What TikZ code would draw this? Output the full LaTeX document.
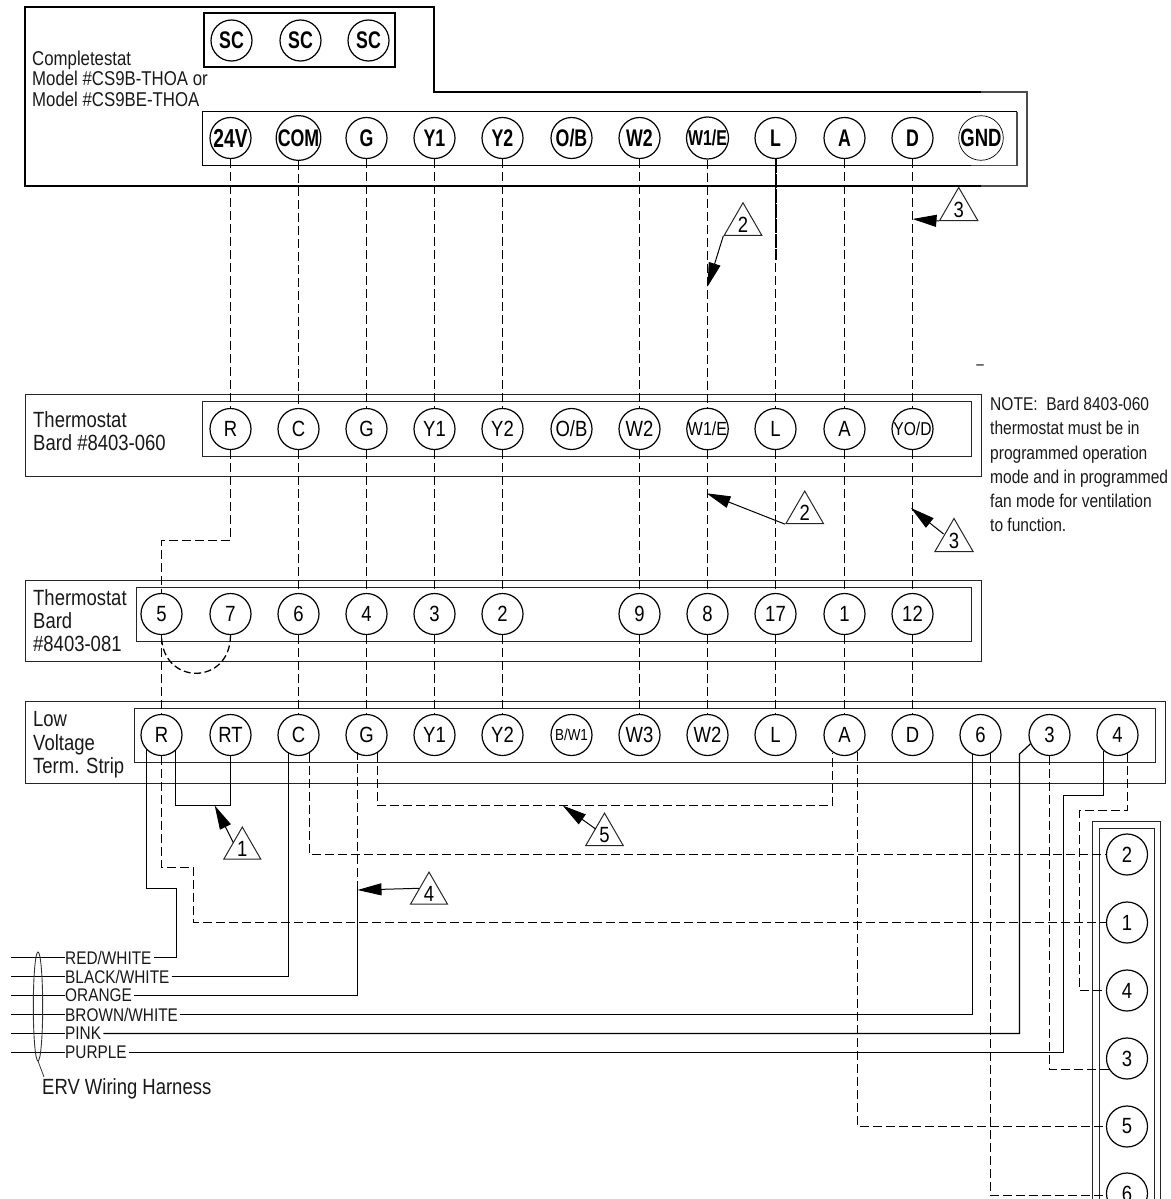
\documentclass[tikz,border=0pt]{standalone}
\usepackage{fontspec}
\usetikzlibrary{shapes.geometric,arrows.meta}
\setmainfont[FakeStretch=0.84]{Liberation Sans}
\newfontfamily\boldnarrow[FakeStretch=0.74]{Liberation Sans Bold}
\newcommand{\fs}[1]{\fontsize{#1}{#1}\selectfont}
\newcommand{\fsl}[2]{\fontsize{#1}{#2}\selectfont}
\tikzset{
  x=1pt,y=-1pt,
  line width=1.2pt,
  thick box/.style={draw=black,line width=2pt},
  thin box/.style={draw=black!85,line width=1.2pt},
  term/.style={circle,draw=black,fill=none,minimum size=41pt,inner sep=0pt,line width=1.2pt,font=\fs{22}},
  topterm/.style={term,font=\boldnarrow\fs{24}},
  wire/.style={draw=black,line width=1.2pt,line join=miter},
  dwire/.style={draw=black,line width=1.3pt,dash pattern=on 9pt off 4pt},
  tri/.style={regular polygon,regular polygon sides=3,draw=black!85,line width=1pt,minimum size=42.6pt,inner sep=0pt,font=\fs{22}},
  leader/.style={draw=black,line width=1pt,-{Triangle[length=24pt,width=12pt]},shorten >=0pt},
  lab/.style={anchor=north west,inner sep=0pt,align=left,text=black!90},
  wlab/.style={anchor=west,inner sep=0pt,font=\fs{18.3},text=black!90},
}
\begin{document}
\begin{tikzpicture}
\useasboundingbox (0,0) rectangle (1170,1199);
\clip (0,0) rectangle (1170,1199);
% ---------- frames
\draw[thick box] (981,186) -- (25,186) -- (25,7) -- (434,7) -- (434,92) -- (981,92);
\draw[black!70,line width=1.2pt] (981,92) -- (1027,92) -- (1027,186) -- (981,186);
\draw[thick box,line width=1.6pt] (204,13) rectangle (395,67);
\draw[black,line width=1.4pt] (971,165.5) -- (202.5,165.5) -- (202.5,111.5) -- (1017,111.5);
\draw[black!70,line width=1.2pt] (1017,111.5) -- (1017,165.5) -- (971,165.5);
\draw[thin box] (25.5,394.5) rectangle (981.5,476.5);
\draw[thin box] (202.5,401.5) rectangle (971.5,456.5);
\draw[thin box] (25.5,580.5) rectangle (981.5,661.5);
\draw[thin box] (136.5,587.5) rectangle (971.5,641.5);
\draw[thin box] (25.5,701.5) rectangle (1165.5,783.5);
\draw[thin box] (134.5,708.5) rectangle (1155.5,762.5);
\draw[thin box] (1154.5,1210) |- (1099.5,828.5) -- (1099.5,1210);
\draw[thin box] (1160.5,1210) |- (1092.5,821.5) -- (1092.5,1210);
% ---------- frame labels
\node[lab,font=\fsl{20}{20.3}] (ncomp) at (32,51) {Completestat\\Model \#CS9B-THOA or\\Model \#CS9BE-THOA};
\node[lab,font=\fsl{22}{23.3}] (nt1) at (33,411) {Thermostat\\Bard \#8403-060};
\node[lab,font=\fsl{22}{23.3}] (nt2) at (33,589) {Thermostat\\Bard\\\#8403-081};
\node[lab,font=\fsl{22}{23.3}] (nlv) at (33,711.5) {Low\\Voltage\\Term. Strip};
\node[lab,font=\fsl{18.5}{24.2}] (note) at (990,397) {NOTE:\ \ Bard 8403-060\\thermostat must be in\\programmed operation\\mode and in programmed\\fan mode for ventilation\\to function.};
\node[lab,font=\fs{22}] (nerv) at (42,1078) {ERV Wiring Harness};
\node[inner sep=0pt,font=\fs{16}] (stray) at (980,367) {–};
% ---------- SC terminals
\node[topterm] (sc1) at (231.5,40.5) {SC};
\node[topterm] (sc2) at (300.5,40.5) {SC};
\node[topterm] (sc3) at (368.5,40.5) {SC};
% ---------- top row
\node[topterm,font=\boldnarrow\fs{26}] (a1) at (230.5,138) {24V};
\node[topterm] (a2) at (298.5,138) {COM};
\node[topterm] (a3) at (366.5,138) {G};
\node[topterm] (a4) at (434.5,138) {Y1};
\node[topterm] (a5) at (502.5,138) {Y2};
\node[topterm] (a6) at (571.5,138) {O/B};
\node[topterm] (a7) at (639.5,138) {W2};
\node[topterm,font=\boldnarrow\fs{21.5}] (a8) at (707.5,138) {W1/E};
\node[topterm] (a9) at (775.5,138) {L};
\node[topterm] (a10) at (844.5,138) {A};
\node[topterm] (a11) at (912.5,138) {D};
\node[topterm,font=\boldnarrow\fs{25},line width=.7pt] (a12) at (981,138) {GND};
% ---------- thermostat 060
\foreach \n/\x/\t in {1/230.5/R,2/298.5/C,3/366.5/G,4/434.5/Y1,5/502.5/Y2,7/639.5/W2,9/775.5/L,10/844.5/A}
  \node[term] (b\n) at (\x,429) {\t};
\node[term] (b6) at (571.5,429) {O/B};
\node[term,font=\fs{19}] (b8) at (707.5,429) {W1/E};
\node[term,font=\fs{18.6}] (b11) at (912.5,429) {YO/D};
% ---------- thermostat 081
\foreach \n/\x/\t in {1/161.5/5,2/230.5/7,3/298.5/6,4/366.5/4,5/434.5/3,6/502.5/2,7/639.5/9,8/707.5/8,9/775.5/17,10/844.5/1,11/912.5/12}
  \node[term] (c\n) at (\x,614) {\t};
% ---------- low voltage strip
\foreach \n/\x/\t in {1/161.5/R,2/230.5/RT,3/298.5/C,4/366.5/G,5/434.5/Y1,6/502.5/Y2,8/639.5/W3,9/707.5/W2,10/775.5/L,11/844.5/A,12/912.5/D,13/980.5/6,14/1049.5/3,15/1117.5/4}
  \node[term] (d\n) at (\x,735) {\t};
\node[term,font=\fs{16}] (d7) at (571.5,735) {B/W1};
% ---------- ERV terminals
\foreach \n/\y/\t in {1/854.5/2,2/922.5/1,3/990.5/4,4/1058.5/3,5/1126.5/5,6/1193.5/6}
  \node[term] (e\n) at (1127,\y) {\t};
% ---------- top to 060
\foreach \i/\j in {a1/b1,a2/b2,a3/b3,a4/b4,a5/b5,a7/b7,a8/b8,a9/b9,a10/b10,a11/b11}
  \draw[dwire] (\i.south) -- (\j.north);
\draw[line width=2pt,dash pattern=on 14pt off 1pt] (a9.south) -- (775.5,260);
% ---------- 060 to 081
\coordinate (rbend1) at (230.5,540.5);
\coordinate (rbend2) at (161.5,540.5);
\draw[dwire] (b1.south) -- (rbend1) -- (rbend2) -- (c1.north);
\foreach \i/\j in {b2/c3,b3/c4,b4/c5,b5/c6,b7/c7,b8/c8,b9/c9,b10/c10,b11/c11}
  \draw[dwire] (\i.south) -- (\j.north);
\draw[dwire,dash pattern=on 7pt off 3.5pt] (c2.south) .. controls (230.5,686) and (161.5,686) .. (c1.south);
% ---------- 081 to strip
\foreach \i/\j in {c1/d1,c3/d3,c4/d4,c5/d5,c6/d6,c7/d8,c8/d9,c9/d10,c10/d11,c11/d12}
  \draw[dwire] (\i.south) -- (\j.north);
% ---------- harness
\foreach \k/\y in {1/957.5,2/976.5,3/995.5,4/1014.5,5/1033.5,6/1052.5}
  \coordinate (h\k) at (11,\y);
\node[wlab] (w1) at (65,957.5) {RED/WHITE};
\node[wlab] (w2) at (65,976.5) {BLACK/WHITE};
\node[wlab] (w3) at (65,995.5) {ORANGE};
\node[wlab] (w4) at (65,1014.5) {BROWN/WHITE};
\node[wlab] (w5) at (65,1033.5) {PINK};
\node[wlab] (w6) at (65,1052.5) {PURPLE};
\foreach \k in {1,...,6} \draw[wire] (h\k) -- (w\k.west);
\draw[black!80,line width=.9pt] (38,1006.5) ellipse [x radius=4.7pt,y radius=54.5pt];
\coordinate (ervtop) at (38,1061);
\coordinate (ervend) at (44,1077);
\draw[black!80,line width=.8pt] (ervtop) -- (ervend);
% solid wires
\draw[wire] (w1.east) ++(2,0) -| (176.5,888.5) -| (146.5,749);
\draw[wire] (w2.east) ++(2,0) -| (288.5,752);
\draw[wire] (w3.east) ++(2,0) -| (357.5,890);
\draw[dwire] (357.5,890) -- (357.5,752);
\draw[wire] (w4.east) ++(2,0) -| (972.5,754);
\draw[wire] (w5.east) ++(2,0) -| (1019.5,754) -- (d14.205);
\draw[wire] (w6.east) ++(2,0) -| (1063.5,795.5) -| (1103.5,751);
\draw[wire] (175.5,750) -- (175.5,805.5) -| (d2.south);
% dashed to ERV
\draw[dwire] (d1.south) |- (193.5,867.5) |- (e2.west);
\draw[dwire] (309.5,753) |- (e1.west);
\draw[dwire] (377.5,753) |- (832.5,805.5) -- (832.5,752.7);
\draw[dwire] (857.5,752) |- (e5.west);
\draw[dwire] (990.5,753) |- (1105,1195.5);
\draw[dwire] (d14.south) |- (1110,1069.5);
\draw[dwire] (1127.5,753) |- (1079.5,810.5) |- (e3.west);
% ---------- callouts
\node[tri] (t2a) at (743,224.5) {2};
\node[tri] (t3a) at (958.7,209.5) {3};
\node[tri] (t2b) at (804.7,512.8) {2};
\node[tri] (t3b) at (954,540.5) {3};
\node[tri] (t1) at (242.3,848.5) {1};
\node[tri] (t4) at (429,893.5) {4};
\node[tri] (t5) at (604.5,834.8) {5};
\coordinate (p2a) at (707.5,286.7);
\coordinate (p3a) at (912.5,219);
\coordinate (p2b) at (706.5,493.3);
\coordinate (p3b) at (911,508);
\coordinate (p1) at (214.7,805.5);
\coordinate (p4) at (357.5,890);
\coordinate (p5) at (562.7,805.5);
\draw[leader] (t2a.corner 2) -- (p2a);
\draw[leader] (t3a.corner 2) -- (p3a);
\draw[leader] (t2b.corner 2) -- (p2b);
\draw[leader] (943.6,534) -- (p3b);
\draw[leader] (233.3,842.7) -- (p1);
\draw[leader] (419,888.3) -- (p4);
\draw[leader] (595.7,829) -- (p5);
\end{tikzpicture}
\end{document}
